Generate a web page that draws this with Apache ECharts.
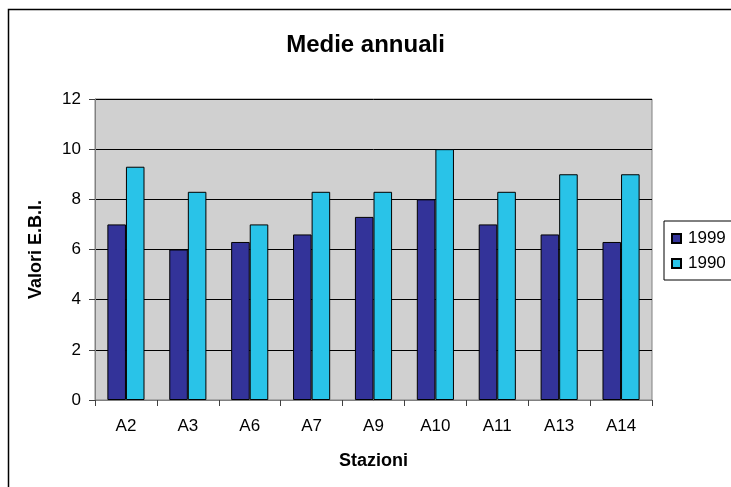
<!DOCTYPE html>
<html>
<head>
<meta charset="utf-8">
<script src="https://cdn.jsdelivr.net/npm/echarts@6/dist/echarts.min.js"></script>
<style>
  html, body { margin: 0; padding: 0; background: #fff; }
  #chart { width: 731px; height: 487px; }
</style>
</head>
<body>
<div id="chart"></div>
<script>
const stazioni = ['A2', 'A3', 'A6', 'A7', 'A9', 'A10', 'A11', 'A13', 'A14']
const valori1999 = [7, 6, 6.3, 6.6, 7.3, 8, 7, 6.6, 6.3]
const valori1990 = [9.3, 8.3, 7, 8.3, 8.3, 10, 8.3, 9, 9]

const font = 'Liberation Sans, Arial, sans-serif'
const myChart = echarts.init(document.getElementById('chart'))

myChart.setOption({
    backgroundColor: '#fff',
    animation: false,
    title: {
        text: 'Medie annuali',
        left: 'center',
        top: 28,
        textStyle: { fontFamily: font, fontSize: 24, fontWeight: 'bold', color: '#000' }
    },
    graphic: [{
        type: 'rect',
        shape: { x: 8.5, y: 9.5, width: 800, height: 800 },
        style: { fill: 'none', stroke: '#000', lineWidth: 1.5 },
        z: 0
    }],
    legend: {
        orient: 'vertical',
        left: 664,
        top: 221,
        padding: [9, 20, 8, 7],
        itemWidth: 9,
        itemHeight: 9,
        itemGap: 8,
        backgroundColor: '#fff',
        borderColor: '#000',
        borderWidth: 1,
        icon: 'rect',
        textStyle: { fontFamily: font, fontSize: 17, color: '#000', padding: [0, 0, 0, 2] },
        data: ['1999', '1990']
    },
    grid: {
        left: 95,
        top: 99,
        right: 79,
        bottom: 87,
        show: true,
        backgroundColor: '#d0d0d0',
        borderColor: '#808080',
        borderWidth: 1
    },
    xAxis: {
        type: 'category',
        data: stazioni,
        name: 'Stazioni',
        nameLocation: 'middle',
        nameGap: 52,
        nameTextStyle: { fontFamily: font, fontSize: 18, fontWeight: 'bold', color: '#000' },
        axisLine: { lineStyle: { color: '#808080', width: 1 } },
        axisTick: { show: true, length: 6, lineStyle: { color: '#404040' } },
        axisLabel: { fontFamily: font, fontSize: 17, color: '#000', margin: 18 }
    },
    yAxis: {
        type: 'value',
        min: 0,
        max: 12,
        interval: 2,
        name: 'Valori E.B.I.',
        nameLocation: 'middle',
        nameGap: 50,
        nameTextStyle: { fontFamily: font, fontSize: 18, fontWeight: 'bold', color: '#000' },
        axisLine: { show: true, lineStyle: { color: '#808080' } },
        axisTick: { show: true, length: 6, lineStyle: { color: '#404040' } },
        axisLabel: { fontFamily: font, fontSize: 17, color: '#000', margin: 14 },
        splitLine: { show: true, lineStyle: { color: '#000', width: 1 } }
    },
    series: [{
        name: '1999',
        type: 'bar',
        data: valori1999,
        barGap: '0%',
        barCategoryGap: '40%',
        itemStyle: { color: '#333399', borderColor: '#000', borderWidth: 1 }
    }, {
        name: '1990',
        type: 'bar',
        data: valori1990,
        itemStyle: { color: '#29c3e8', borderColor: '#000', borderWidth: 1 }
    }]
})
</script>
</body>
</html>
